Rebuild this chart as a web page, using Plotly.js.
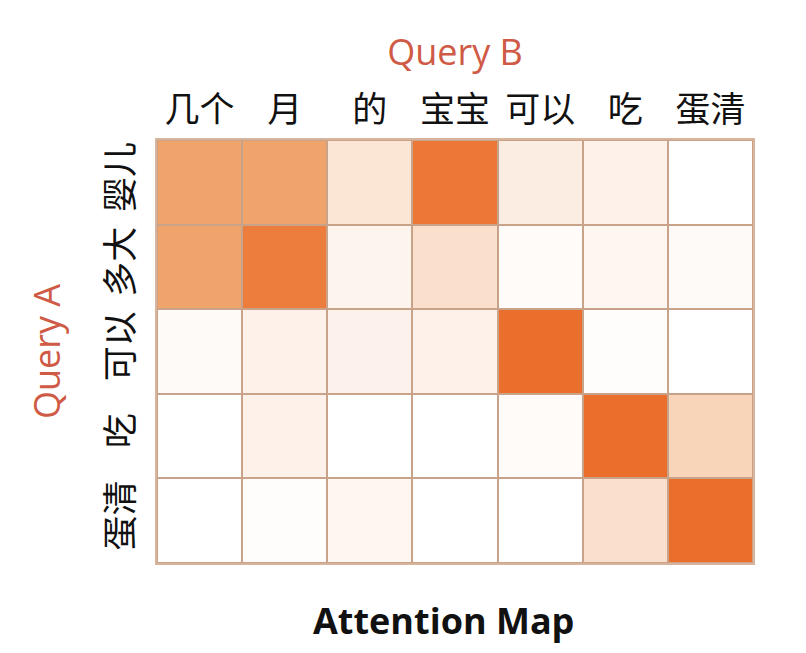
<!DOCTYPE html>
<html>
<head>
<meta charset="utf-8">
<script src="https://cdn.plot.ly/plotly-3.0.1.min.js"></script>
<style>html,body{margin:0;padding:0;background:#fff;}#chart{width:806px;height:653px;}</style>
</head>
<body>
<div id="chart"></div>
<script>
const queryB = ['几个', '月', '的', '宝宝', '可以', '吃', '蛋清'];
const queryA = ['婴儿', '多大', '可以', '吃', '蛋清'];
const row婴儿 = [0.55, 0.55, 0.15, 0.93, 0.10, 0.08, 0.00];
const row多大 = [0.55, 0.88, 0.06, 0.18, 0.02, 0.05, 0.03];
const row可以 = [0.03, 0.08, 0.07, 0.08, 1.00, 0.01, 0.00];
const row吃 = [0.00, 0.08, 0.00, 0.00, 0.02, 1.00, 0.25];
const row蛋清 = [0.00, 0.01, 0.05, 0.00, 0.00, 0.18, 1.00];
const attention = [row婴儿, row多大, row可以, row吃, row蛋清];

const cjk = '"Noto Sans CJK SC", "Noto Sans", sans-serif';
const red = '#CF5A45';

Plotly.newPlot('chart', [{
  type: 'heatmap',
  x: queryB,
  y: queryA,
  z: attention,
  zmin: 0, zmax: 1,
  colorscale: [[0, '#FFFFFF'], [0.1, '#FCEDE3'], [0.5, '#F1AA72'], [1, '#EB6F2C']],
  showscale: false,
  xgap: 2, ygap: 2,
  hoverinfo: 'skip'
}], {
  width: 806, height: 653,
  margin: {l: 157, r: 53, t: 140, b: 90},
  paper_bgcolor: '#FFFFFF',
  plot_bgcolor: '#C9A28A',
  xaxis: {
    side: 'top',
    tickfont: {family: cjk, size: 35, color: '#111'},
    ticks: '', showgrid: false, zeroline: false,
    showline: true, mirror: true, linecolor: '#D9B49C', linewidth: 2,
    ticklabelstandoff: 2,
    title: {text: 'Query B', font: {family: '"Open Sans", sans-serif', size: 36, color: red}, standoff: 4}
  },
  yaxis: {
    autorange: 'reversed',
    tickangle: -90,
    tickfont: {family: cjk, size: 35, color: '#111'},
    ticks: '', showgrid: false, zeroline: false,
    showline: true, mirror: true, linecolor: '#D9B49C', linewidth: 2,
    ticklabelstandoff: 8,
    title: {text: 'Query A', font: {family: '"Open Sans", sans-serif', size: 36, color: red}, standoff: 20}
  },
  annotations: [{
    text: '<b>Attention Map</b>',
    xref: 'paper', yref: 'paper', x: 0.48, y: -0.137,
    xanchor: 'center', yanchor: 'middle', showarrow: false,
    font: {family: '"Open Sans", sans-serif', size: 36, color: '#111'}
  }]
}, {displayModeBar: false, staticPlot: true});
</script>
</body>
</html>
